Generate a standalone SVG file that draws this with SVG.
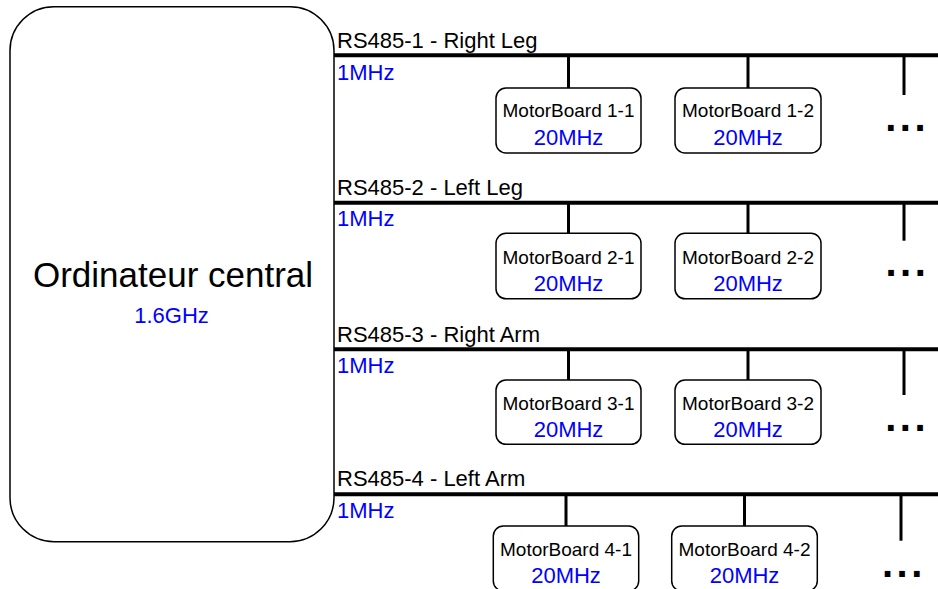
<svg xmlns="http://www.w3.org/2000/svg" width="938" height="589" viewBox="0 0 938 589">
<style>
text{font-family:"Liberation Sans",Arial,Helvetica,sans-serif;}
.box{fill:#fff;stroke:#000;stroke-width:1.5;}
.bus{stroke:#000;stroke-width:4;fill:none;}
.drop{stroke:#000;stroke-width:3;fill:none;}
.lbl{font-size:22px;fill:#000;}
.freq{font-size:22px;fill:#0000FF;}
.mb{font-size:19px;fill:#000;text-anchor:middle;}
.mbf{font-size:22px;fill:#0000FF;text-anchor:middle;}
.dots{font-size:40px;font-weight:bold;letter-spacing:3.5px;fill:#000;}
</style>
<g id="central">
<rect class="box" x="10" y="6.7" width="324" height="535" rx="44" ry="44"/>
<text x="173" y="286.7" font-size="35" text-anchor="middle">Ordinateur central</text>
<text x="171.5" y="322.7" font-size="22" fill="#0000FF" text-anchor="middle">1.6GHz</text>
</g>
<g id="connectors">
<line class="bus" x1="334" y1="55.3" x2="938" y2="55.3"/>
<line class="drop" x1="568.5" y1="55" x2="568.5" y2="88"/>
<line class="drop" x1="748" y1="55" x2="748" y2="88"/>
<line class="drop" x1="904" y1="55" x2="904" y2="95"/>
<line class="bus" x1="334" y1="202.7" x2="938" y2="202.7"/>
<line class="drop" x1="568.5" y1="202" x2="568.5" y2="233.3"/>
<line class="drop" x1="748" y1="202" x2="748" y2="233.3"/>
<line class="drop" x1="904" y1="202" x2="904" y2="240.7"/>
<line class="bus" x1="334" y1="349.3" x2="938" y2="349.3"/>
<line class="drop" x1="568.5" y1="349" x2="568.5" y2="380"/>
<line class="drop" x1="748" y1="349" x2="748" y2="380"/>
<line class="drop" x1="904" y1="349" x2="904" y2="395"/>
<line class="bus" x1="334" y1="494.3" x2="938" y2="494.3"/>
<line class="drop" x1="566" y1="494" x2="566" y2="526"/>
<line class="drop" x1="744.5" y1="494" x2="744.5" y2="526"/>
<line class="drop" x1="901" y1="494" x2="901" y2="540.7"/>
</g>
<g id="bus1-labels">
<text class="lbl" x="337" y="48.3">RS485-1 - Right Leg</text>
<text class="freq" x="337" y="80">1MHz</text>
<text class="dots" x="885.2" y="131">...</text>
</g>
<g id="mb1-1"><rect class="box" x="496" y="88" width="145" height="65" rx="10"/><text class="mb" x="568.5" y="116.7">MotorBoard 1-1</text><text class="mbf" x="568.5" y="145">20MHz</text></g>
<g id="mb1-2"><rect class="box" x="675" y="88" width="146" height="65" rx="10"/><text class="mb" x="748" y="116.7">MotorBoard 1-2</text><text class="mbf" x="748" y="145">20MHz</text></g>
<g id="bus2-labels">
<text class="lbl" x="337" y="195">RS485-2 - Left Leg</text>
<text class="freq" x="337" y="226">1MHz</text>
<text class="dots" x="885.5" y="276">...</text>
</g>
<g id="mb2-1"><rect class="box" x="496" y="233.3" width="145" height="65.5" rx="10"/><text class="mb" x="568.5" y="264">MotorBoard 2-1</text><text class="mbf" x="568.5" y="290.7">20MHz</text></g>
<g id="mb2-2"><rect class="box" x="675" y="233.3" width="146" height="65.5" rx="10"/><text class="mb" x="748" y="264">MotorBoard 2-2</text><text class="mbf" x="748" y="290.7">20MHz</text></g>
<g id="bus3-labels">
<text class="lbl" x="337" y="341.5">RS485-3 - Right Arm</text>
<text class="freq" x="337" y="372.5">1MHz</text>
<text class="dots" x="885.2" y="430.7">...</text>
</g>
<g id="mb3-1"><rect class="box" x="496" y="380" width="145" height="64.3" rx="10"/><text class="mb" x="568.5" y="409.5">MotorBoard 3-1</text><text class="mbf" x="568.5" y="437">20MHz</text></g>
<g id="mb3-2"><rect class="box" x="675" y="380" width="146" height="64.3" rx="10"/><text class="mb" x="748" y="409.5">MotorBoard 3-2</text><text class="mbf" x="748" y="437">20MHz</text></g>
<g id="bus4-labels">
<text class="lbl" x="337" y="486">RS485-4 - Left Arm</text>
<text class="freq" x="337" y="518.3">1MHz</text>
<text class="dots" x="882" y="577">...</text>
</g>
<g id="mb4-1"><rect class="box" x="493.3" y="526" width="145.4" height="65" rx="10"/><text class="mb" x="566" y="555.7">MotorBoard 4-1</text><text class="mbf" x="566" y="583.3">20MHz</text></g>
<g id="mb4-2"><rect class="box" x="671.7" y="526" width="145.6" height="65" rx="10"/><text class="mb" x="744.5" y="555.7">MotorBoard 4-2</text><text class="mbf" x="744.5" y="583.3">20MHz</text></g>
</svg>
